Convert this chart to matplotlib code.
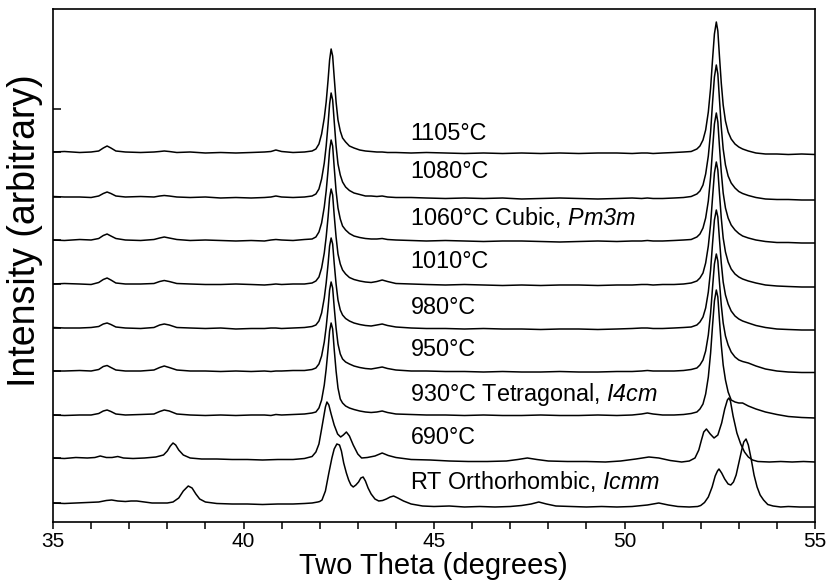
import numpy as np
import matplotlib
matplotlib.use("Agg")
import matplotlib.pyplot as plt
from matplotlib.ticker import MultipleLocator

plt.rcParams['font.family'] = ['Liberation Sans', 'DejaVu Sans']
# math text only used for the italic space groups, digits included
plt.rcParams['mathtext.fontset'] = 'custom'
plt.rcParams['mathtext.rm'] = 'Liberation Sans:italic'
plt.rcParams['mathtext.it'] = 'Liberation Sans:italic'

# two-theta grid shared by the high temperature scans (930 - 1105 C)
x_hi = [35.0, 35.3, 35.7, 36.0, 36.2, 36.32, 36.42, 36.52, 36.65, 36.9, 37.3, 37.65, 37.8, 37.92,
        38.05, 38.25, 38.6, 39.0, 39.4, 39.8, 40.2, 40.55, 40.72, 40.85, 41.0, 41.3, 41.6, 41.8,
        41.9, 41.98, 42.05, 42.12, 42.17, 42.22, 42.26, 42.30, 42.34, 42.38, 42.43, 42.48, 42.54,
        42.60, 42.68, 42.78, 42.90, 43.05, 43.2,
        43.35, 43.5, 43.64, 43.78, 44.0, 44.4, 44.8, 45.3, 45.8, 46.3, 46.8, 47.3, 47.8, 48.3, 48.8,
        49.3, 49.8, 50.2, 50.45, 50.6, 50.75, 51.0, 51.3, 51.55, 51.75,
        51.9, 51.98, 52.06, 52.13, 52.20, 52.26, 52.31, 52.36, 52.41, 52.45, 52.49, 52.54, 52.59,
        52.65, 52.72, 52.80, 52.90, 53.0, 53.1, 53.25,
        53.45, 53.7, 54.0, 54.3, 54.65, 55.0]

y_1105 = [0, 0.5, -0.5, 0, 1, 4, 6, 4, 1, 0, -0.5, 0, 0.5, 1, 0.5, -0.5, 0, -1, -0.5, -1, -0.5, 0, 0.5, 2, 0.5, -0.5, 0, 1,
          3, 8, 18, 34, 50, 72, 92, 103, 96, 75, 50, 32, 21, 14, 10, 6, 4, 2, 1,
          0.5, 0, 0, -0.5, -0.5, -1, -0.5, -1, -1.5, -1, -1.5, -1, -1.5, -1, -1.5, -1, -1, -1.5, -1, -1, -1.5, -1, -0.5, 0, 0.5,
          3, 6, 12, 22, 40, 64, 92, 118, 130, 121, 97, 69, 47, 31, 20, 13, 8, 5, 3, 1,
          -1, -2, -2, -2.5, -2, -2.5]
y_1080 = [0.5, 0, 0, -0.5, 1, 3.5, 5, 3.5, 1, 0, 0.5, 0, 1, 1.5, 1, 0, -0.5, 0, -1, -0.5, -1, -0.5, 0, 1, 0, -0.5, 0, 1,
          3, 8, 18, 34, 51, 73, 93, 104, 97, 76, 51, 33, 22, 15, 10, 6.5, 4, 2.5, 1,
          1, 0.5, 1, 0, -0.5, -0.5, -1, -1.5, -1, -1.5, -1, -2, -1.5, -1, -1.5, -2, -1.5, -1, -1.5, -1, -1.5, -1.5, -1, -0.5, 0.5,
          3, 6, 12, 23, 41, 65, 94, 120, 132, 123, 99, 70, 48, 32, 21, 14, 9, 5.5, 3.5, 1.5,
          -0.5, -2, -2.5, -2.5, -3, -3]
y_1060 = [0, -0.5, 0.5, 0, 1.5, 4.5, 6, 4, 1.5, 0, -0.5, 0.5, 2, 3, 2, 0.5, -0.5, 0, -0.5, -1, -0.5, -1, 0, 0.5, 0, -0.5, 0.5, 1,
          3, 8, 17, 33, 49, 70, 90, 100, 94, 73, 49, 32, 21, 14, 10, 6.5, 4, 2.5, 1.5,
          1, 1, 1.5, 0.5, 0, -0.5, -1, -0.5, -1, -1.5, -1, -1, -1.5, -2, -1.5, -1, -1.5, -1, -1, -0.5, -1, -1, -0.5, 0, 0.5,
          3, 6, 12, 22, 39, 63, 90, 116, 127, 118, 95, 68, 47, 32, 22, 15, 10, 6.5, 4, 2,
          0, -1.5, -2.5, -2.5, -3, -3]
y_1010 = [0, 0.5, 0, -0.5, 1.5, 4.5, 6, 4, 1, 0, 0, 0.5, 2.5, 3.5, 2.5, 0.5, 0, -0.5, -0.5, 0, -0.5, -1, -0.5, 0, -0.5, 0, 0, 1,
          3, 7, 16, 31, 47, 67, 86, 95, 89, 69, 47, 30, 20, 14, 10, 6.5, 4.5, 3, 2,
          1.5, 2.5, 4, 2.5, 0.5, 0, -0.5, -1, -0.5, -1, -1.5, -1, -1.5, -1, -1, -1.5, -1, -1, -0.5, -0.5, -1, -0.5, -0.5, 0, 1,
          3, 6, 11, 21, 38, 60, 86, 111, 122, 114, 92, 66, 46, 32, 22, 15, 10, 7, 5, 3,
          1, -1, -2, -2.5, -3, -3]
y_980 = [0.5, 0, 0, 0.5, 1.5, 4, 5, 3.5, 1, 0, -0.5, 0.5, 3, 4, 3, 0.5, 0, -0.5, 0, -1, -0.5, -0.5, 0, 0, -0.5, 0, 0.5, 1.5,
         3, 7, 15, 30, 45, 64, 82, 90, 84, 65, 44, 28, 18, 13, 9.5, 7, 5, 3.5, 2.5,
         2, 3, 4, 2.5, 1, 0, -0.5, -0.5, -1, -0.5, -1, -1, -1.5, -1, -1, -1.5, -1, -0.5, 0, 0, -0.5, -0.5, 0, 0.5, 1,
         3, 6, 11, 20, 36, 58, 84, 108, 118, 111, 90, 65, 46, 33, 24, 17, 12, 9, 7, 5,
         2.5, 0.5, -1, -1.5, -2, -2]
y_950 = [0, 0, 0.5, 0, 1.5, 4.5, 5.5, 3.5, 1, 0, 0, 1, 3.5, 5, 3.5, 1, 0, 0, -0.5, 0, -0.5, 0, -0.5, 0, 0, 0.5, 0.5, 1.5,
         3, 7, 15, 29, 44, 63, 81, 89, 83, 64, 43, 27, 17, 12, 9, 7, 5, 3.5, 2.5,
         2, 3, 4, 2.5, 1, 0, 0, -0.5, -0.5, -1, -0.5, -1, -1, -0.5, -1, -1, -0.5, -0.5, 0, 0.5, 0, 0, 0, 0.5, 1.5,
         3, 6, 11, 20, 36, 58, 83, 107, 117, 110, 90, 66, 48, 35, 26, 19, 14, 11, 9.5, 8,
         5, 2, 0, -1, -1.5, -1.5]
y_930 = [0, -0.5, 0, 0, 1.5, 4, 5, 3.5, 1, 0, 0.5, 1, 3.5, 5, 4, 1, 0, -0.5, 0, -0.5, 0, 0, -0.5, 0.5, 0, 0.5, 1, 2,
         3, 7, 15, 30, 46, 66, 84, 92, 86, 66, 44, 27, 16, 12, 9, 7, 5.5, 4, 3,
         2.5, 3, 4, 2.5, 1, 0.5, 0, 0, -0.5, 0, -0.5, -0.5, 0, -0.5, -0.5, 0, -0.5, 0, 1, 2, 1, 0, 0, 0.5, 1.5,
         3, 6, 11, 21, 38, 62, 89, 114, 125, 118, 96, 70, 50, 35, 23, 15, 13, 12, 12, 9,
         6, 3, 0.5, -1.5, -2.5, -3]

x_690 = [35.0, 35.3, 35.6, 35.9, 36.1, 36.24, 36.4, 36.55, 36.7, 36.85, 37.1, 37.4, 37.7, 37.9, 38.0,
         38.08, 38.15, 38.22, 38.3, 38.42, 38.6, 38.9, 39.3, 39.7, 40.1, 40.5, 40.9, 41.3, 41.6, 41.8,
         41.9, 41.98, 42.05, 42.1, 42.15, 42.19, 42.24, 42.3, 42.38, 42.47, 42.55, 42.62, 42.7, 42.78,
         42.88, 43.0, 43.1, 43.25, 43.45, 43.64, 43.8, 44.0,
         44.4, 44.9, 45.4, 45.9, 46.4, 46.9, 47.2, 47.45, 47.7, 48.0, 48.5, 49.0, 49.5, 49.9, 50.3,
         50.64, 50.9, 51.2, 51.5, 51.7,
         51.85, 51.95, 52.02, 52.08, 52.15, 52.25, 52.35, 52.45, 52.55, 52.63, 52.70, 52.74, 52.78,
         52.85, 52.95, 53.05, 53.15, 53.25, 53.36,
         53.5, 53.8, 54.1, 54.4, 54.7, 55.0]
y_690 = [0, -0.5, 0.5, 0, 0.5, 2, 0.5, 0.5, 1.5, 0, -0.5, 0, 1, 3, 7,
         12, 15, 13, 8, 3, 0, -1, -1, -1.5, -1.5, -2, -1.5, -1.5, -0.5, 1.5,
         6, 14, 29, 40, 51, 56, 53, 44, 33, 24, 21, 23, 26, 22,
         13, 4, 0, 0.5, 2, 5, 2.5, 0.5,
         -1.5, -2, -3, -3.5, -3.5, -3, -1.5, 0, -1.5, -3, -3.5, -3.5, -4, -3, -1,
         1, 0, -2.5, -4, -3,
         0, 8, 18, 26, 29, 24, 20, 23, 35, 49, 58, 60, 57,
         42, 25, 14, 6, 1, -2,
         -3.5, -4, -3.5, -4, -3.5, -4]

x_rt = [35.0, 35.3, 35.6, 35.9, 36.2, 36.4, 36.54, 36.7, 36.9, 37.05, 37.2, 37.4, 37.6, 37.8, 38.0,
        38.15, 38.3, 38.42, 38.55, 38.65, 38.75, 38.85, 39.0, 39.3, 39.7, 40.1, 40.5, 40.9, 41.3,
        41.6, 41.8, 41.95,
        42.0, 42.06, 42.15, 42.24, 42.32, 42.38, 42.45, 42.52, 42.57, 42.63, 42.7, 42.76, 42.82,
        42.88, 42.95, 43.02, 43.08, 43.14, 43.2, 43.27, 43.35, 43.45, 43.55, 43.65, 43.75, 43.85,
        43.94, 44.05, 44.2, 44.4, 44.7,
        45.0, 45.4, 45.8, 46.2, 46.6, 47.0, 47.3, 47.55, 47.75, 47.95, 48.2, 48.6, 49.0, 49.4,
        49.8, 50.2, 50.6, 50.9, 51.15, 51.4, 51.7, 51.92,
        52.0, 52.1, 52.2, 52.3, 52.38, 52.44, 52.48, 52.55, 52.63, 52.72, 52.79, 52.86, 52.93,
        53.0, 53.07, 53.13, 53.19, 53.25, 53.32, 53.4, 53.48, 53.56, 53.65, 53.76, 53.9, 54.1,
        54.3, 54.6, 55.0]
y_rt = [0, -0.5, 0, 0.5, 1, 2.5, 3, 2, 1.5, 2, 2, 1, 0, 0, 0,
        1, 5, 12, 17, 15, 9, 4, 1, -0.5, -1, -1, -1.5, -1, -1,
        -0.5, 0, 1,
        1.5, 3, 12, 30, 45, 54, 59, 58, 52, 40, 30, 23, 18,
        16, 18, 21, 25, 26, 22, 15, 9, 4, 2, 2.5, 4, 6,
        7, 5, 2, -1, -3,
        -3.5, -3, -4, -3.5, -4, -3.5, -2.5, -1, 1, -1, -3, -3.5, -4, -3.5,
        -4, -3.5, -2, 0, -2, -3.5, -4, -3.5,
        -2.5, 0.5, 6, 16, 27, 32, 34, 30, 24, 19, 18, 21, 28,
        40, 52, 61, 64, 58, 45, 28, 16, 8, 3, -1.5, -3, -4,
        -3.5, -4, -4]

labels = ['1105°C', '1080°C', '1060°C Cubic, $\\mathrm{Pm3m}$', '1010°C', '980°C', '950°C',
          '930°C Tetragonal, $\\mathrm{I4cm}$', '690°C', 'RT Orthorhombic, $\\mathrm{Icmm}$']
offsets = [370, 325, 282, 238, 194, 151, 107, 64, 19]
label_y = [389, 350, 304, 260, 215, 172, 128, 84, 41]
xs = [x_hi, x_hi, x_hi, x_hi, x_hi, x_hi, x_hi, x_690, x_rt]
ys = [y_1105, y_1080, y_1060, y_1010, y_980, y_950, y_930, y_690, y_rt]

fig = plt.figure(figsize=(8.36, 5.85), dpi=100)
ax = fig.add_axes([53 / 836, 63 / 585, 762 / 836, 513 / 585])

for x, y, off in zip(xs, ys, offsets):
    ax.plot(x, np.array(y) + off, color='black', lw=1.1)

for lab, ly in zip(labels, label_y):
    ax.text(44.38, ly, lab, fontsize=16.8, va='center', ha='left')

ax.set_xlim(35, 55)
ax.set_ylim(0, 513)
ax.xaxis.set_major_locator(MultipleLocator(5))
ax.xaxis.set_minor_locator(MultipleLocator(1))
ax.tick_params(axis='x', which='both', direction='out', length=5, width=1.1, labelsize=15, pad=2)
ax.set_yticks(offsets + [413])
ax.tick_params(axis='y', direction='in', length=6, width=1.1, labelleft=False)
for s in ax.spines.values():
    s.set_linewidth(1.2)

fig.text(433 / 836, 1 - 566 / 585, 'Two Theta (degrees)', fontsize=21, ha='center', va='center')
fig.text(25 / 836, 1 - 231 / 585, 'Intensity (arbitrary)', fontsize=27, rotation=90,
         ha='center', va='center')

fig.savefig('out.png', dpi=100)
